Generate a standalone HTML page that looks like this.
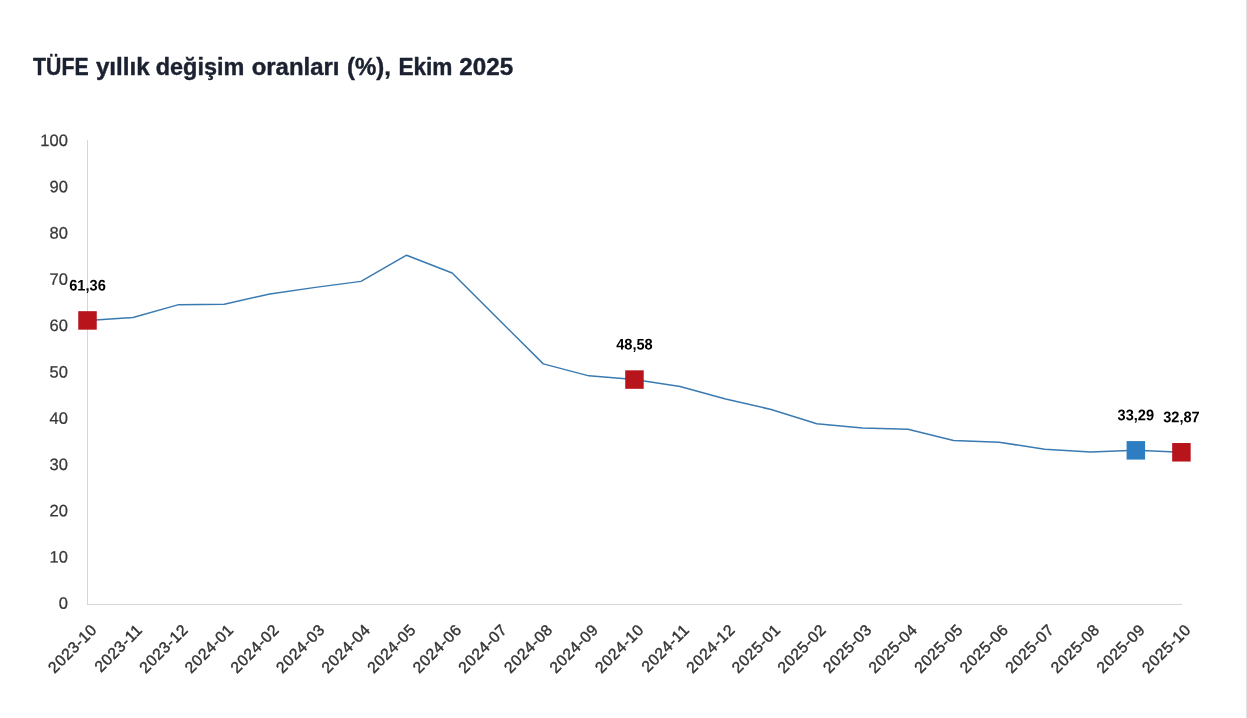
<!DOCTYPE html>
<html lang="tr"><head><meta charset="utf-8"><title>TÜFE yıllık değişim oranları (%), Ekim 2025</title>
<style>
html,body{margin:0;padding:0;background:#fff;}
body{width:1247px;height:718px;overflow:hidden;position:relative;font-family:"Liberation Sans",sans-serif;}
svg{position:absolute;left:0;top:0;display:block;}
.t{font-family:"Liberation Sans",sans-serif;font-weight:700;fill:#1b2130;stroke:#1b2130;stroke-width:0.4px;stroke-linejoin:round;}
.yl{font-family:"Liberation Sans",sans-serif;fill:#383838;stroke:#383838;stroke-width:0.25px;text-anchor:end;}
.xl{font-family:"Liberation Sans",sans-serif;fill:#343434;stroke:#343434;stroke-width:0.4px;text-anchor:end;}
.dl{font-family:"Liberation Sans",sans-serif;font-weight:700;fill:#000;text-anchor:middle;}
</style></head><body>
<svg width="1247" height="718" viewBox="0 0 1247 718">
<rect x="0" y="0" width="1247" height="718" fill="#ffffff"/>
<rect x="1242" y="0" width="4" height="718" fill="#fdfdfd"/>
<rect x="1246" y="0" width="1" height="718" fill="#e2e2e2"/>
<text class="t" x="32.7" y="74.8" font-size="23" xml:space="preserve"><tspan x="33.10" textLength="55.56" lengthAdjust="spacingAndGlyphs">TÜFE</tspan> <tspan x="95.90" textLength="53.86" lengthAdjust="spacingAndGlyphs">yıllık</tspan> <tspan x="155.78" textLength="88.46" lengthAdjust="spacingAndGlyphs">değişim</tspan> <tspan x="251.66" textLength="87.87" lengthAdjust="spacingAndGlyphs">oranları</tspan> <tspan x="346.96" textLength="43.96" lengthAdjust="spacingAndGlyphs">(%),</tspan> <tspan x="398.42" textLength="54.05" lengthAdjust="spacingAndGlyphs">Ekim</tspan> <tspan x="459.35" textLength="53.83" lengthAdjust="spacingAndGlyphs">2025</tspan></text>
<rect x="87" y="140" width="1" height="465" fill="#d6d6d6"/>
<rect x="87" y="604" width="1095" height="1" fill="#d6d6d6"/>
<text class="yl" transform="translate(67.9,608.80) rotate(0.03)" font-size="16.5">0</text>
<text class="yl" transform="translate(67.9,562.52) rotate(0.03)" font-size="16.5">10</text>
<text class="yl" transform="translate(67.9,516.24) rotate(0.03)" font-size="16.5">20</text>
<text class="yl" transform="translate(67.9,469.96) rotate(0.03)" font-size="16.5">30</text>
<text class="yl" transform="translate(67.9,423.68) rotate(0.03)" font-size="16.5">40</text>
<text class="yl" transform="translate(67.9,377.40) rotate(0.03)" font-size="16.5">50</text>
<text class="yl" transform="translate(67.9,331.12) rotate(0.03)" font-size="16.5">60</text>
<text class="yl" transform="translate(67.9,284.84) rotate(0.03)" font-size="16.5">70</text>
<text class="yl" transform="translate(67.9,238.56) rotate(0.03)" font-size="16.5">80</text>
<text class="yl" transform="translate(67.9,192.28) rotate(0.03)" font-size="16.5">90</text>
<text class="yl" transform="translate(67.9,146.00) rotate(0.03)" font-size="16.5">100</text>
<text class="xl" transform="translate(97.80,630.70) rotate(-45)" font-size="15.7" letter-spacing="0.5">2023-10</text>
<text class="xl" transform="translate(143.38,630.70) rotate(-45)" font-size="15.7" letter-spacing="0.5">2023-11</text>
<text class="xl" transform="translate(188.96,630.70) rotate(-45)" font-size="15.7" letter-spacing="0.5">2023-12</text>
<text class="xl" transform="translate(234.54,630.70) rotate(-45)" font-size="15.7" letter-spacing="0.5">2024-01</text>
<text class="xl" transform="translate(280.12,630.70) rotate(-45)" font-size="15.7" letter-spacing="0.5">2024-02</text>
<text class="xl" transform="translate(325.70,630.70) rotate(-45)" font-size="15.7" letter-spacing="0.5">2024-03</text>
<text class="xl" transform="translate(371.28,630.70) rotate(-45)" font-size="15.7" letter-spacing="0.5">2024-04</text>
<text class="xl" transform="translate(416.86,630.70) rotate(-45)" font-size="15.7" letter-spacing="0.5">2024-05</text>
<text class="xl" transform="translate(462.44,630.70) rotate(-45)" font-size="15.7" letter-spacing="0.5">2024-06</text>
<text class="xl" transform="translate(508.02,630.70) rotate(-45)" font-size="15.7" letter-spacing="0.5">2024-07</text>
<text class="xl" transform="translate(553.60,630.70) rotate(-45)" font-size="15.7" letter-spacing="0.5">2024-08</text>
<text class="xl" transform="translate(599.18,630.70) rotate(-45)" font-size="15.7" letter-spacing="0.5">2024-09</text>
<text class="xl" transform="translate(644.76,630.70) rotate(-45)" font-size="15.7" letter-spacing="0.5">2024-10</text>
<text class="xl" transform="translate(690.34,630.70) rotate(-45)" font-size="15.7" letter-spacing="0.5">2024-11</text>
<text class="xl" transform="translate(735.92,630.70) rotate(-45)" font-size="15.7" letter-spacing="0.5">2024-12</text>
<text class="xl" transform="translate(781.50,630.70) rotate(-45)" font-size="15.7" letter-spacing="0.5">2025-01</text>
<text class="xl" transform="translate(827.08,630.70) rotate(-45)" font-size="15.7" letter-spacing="0.5">2025-02</text>
<text class="xl" transform="translate(872.66,630.70) rotate(-45)" font-size="15.7" letter-spacing="0.5">2025-03</text>
<text class="xl" transform="translate(918.24,630.70) rotate(-45)" font-size="15.7" letter-spacing="0.5">2025-04</text>
<text class="xl" transform="translate(963.82,630.70) rotate(-45)" font-size="15.7" letter-spacing="0.5">2025-05</text>
<text class="xl" transform="translate(1009.40,630.70) rotate(-45)" font-size="15.7" letter-spacing="0.5">2025-06</text>
<text class="xl" transform="translate(1054.98,630.70) rotate(-45)" font-size="15.7" letter-spacing="0.5">2025-07</text>
<text class="xl" transform="translate(1100.56,630.70) rotate(-45)" font-size="15.7" letter-spacing="0.5">2025-08</text>
<text class="xl" transform="translate(1146.14,630.70) rotate(-45)" font-size="15.7" letter-spacing="0.5">2025-09</text>
<text class="xl" transform="translate(1191.72,630.70) rotate(-45)" font-size="15.7" letter-spacing="0.5">2025-10</text>
<polyline points="87.50,320.43 133.08,317.56 178.66,304.64 224.24,304.23 269.82,294.00 315.40,287.38 360.98,281.37 406.56,255.22 452.14,273.04 497.72,318.48 543.30,363.88 588.88,375.87 634.46,379.57 680.04,386.47 725.62,399.01 771.20,409.47 816.78,423.68 862.36,428.07 907.94,429.18 953.52,440.52 999.10,442.19 1044.68,449.27 1090.26,451.91 1135.84,450.33 1181.42,452.28" fill="none" stroke="#3a7ab1" stroke-width="1.5" stroke-linejoin="round"/>
<rect class="mk" x="78.25" y="311.18" width="18.5" height="18.5" fill="#b7151b"/>
<text class="dl" transform="translate(87.50,290.43) rotate(0.05) scale(0.95,1)" font-size="15.4">61,36</text>
<rect class="mk" x="625.21" y="370.32" width="18.5" height="18.5" fill="#b7151b"/>
<text class="dl" transform="translate(634.46,349.57) rotate(0.05) scale(0.95,1)" font-size="15.4">48,58</text>
<rect class="mk" x="1126.59" y="441.08" width="18.5" height="18.5" fill="#2d7dc2"/>
<text class="dl" transform="translate(1135.84,420.33) rotate(0.05) scale(0.95,1)" font-size="15.4">33,29</text>
<rect class="mk" x="1172.17" y="443.03" width="18.5" height="18.5" fill="#b7151b"/>
<text class="dl" transform="translate(1181.42,422.28) rotate(0.05) scale(0.95,1)" font-size="15.4">32,87</text>
</svg>
</body></html>
